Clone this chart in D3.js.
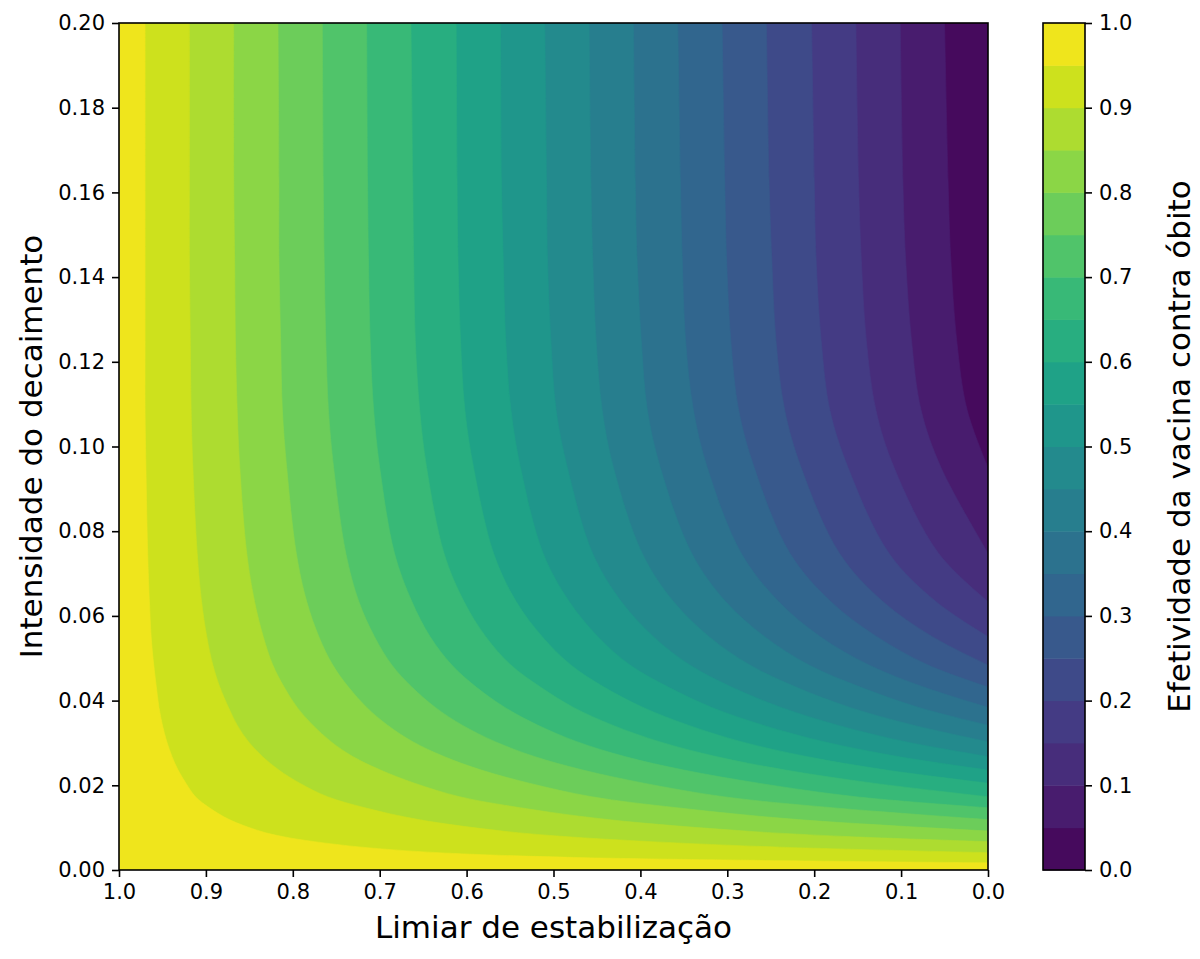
<!DOCTYPE html>
<html>
<head>
<meta charset="utf-8">
<script src="https://cdn.jsdelivr.net/npm/d3@7/dist/d3.min.js"></script>
<style>
  body { margin: 0; background: #fff; }
  text { font-family: "DejaVu Sans", sans-serif; fill: #000; }
</style>
</head>
<body>
<svg id="chart" width="1200" height="959"></svg>
<script>
// contour levels (colour bands of 0.05)
const levels = [0, 0.05, 0.1, 0.15, 0.2, 0.25, 0.3, 0.35, 0.4, 0.45, 0.5,
  0.55, 0.6, 0.65, 0.7, 0.75, 0.8, 0.85, 0.9, 0.95, 1.0];

const xTicks = [1.0, 0.9, 0.8, 0.7, 0.6, 0.5, 0.4, 0.3, 0.2, 0.1, 0.0];
const yTicks = [0, 0.02, 0.04, 0.06, 0.08, 0.1, 0.12, 0.14, 0.16, 0.18, 0.2];
const cbarTicks = [0, 0.1, 0.2, 0.3, 0.4, 0.5, 0.6, 0.7, 0.8, 0.9, 1.0];

// decay values (y) at which the boundaries were read, top to bottom
const decayRows = [0.2, 0.1629, 0.145, 0.125, 0.1086, 0.095, 0.0748, 0.0634,
  0.0551, 0.0484, 0.0432, 0.0384, 0.0342, 0.0303, 0.0268, 0.0236, 0.0205,
  0.0173, 0.0147, 0.0119, 0.0092, 0.0079, 0.0067, 0.0054, 0.0041, 0.0029, 0.0017];

// threshold (x) where each boundary crosses those rows; last value is the x = 0 edge
// one list per level 0.05 ... 0.95
const boundaryX = [
  [0.050, 0.046, 0.043, 0.036, 0.024, 0],
  [0.101, 0.098, 0.095, 0.088, 0.077, 0.054, 0],
  [0.152, 0.149, 0.146, 0.140, 0.129, 0.108, 0.057, 0],
  [0.203, 0.200, 0.198, 0.192, 0.182, 0.161, 0.114, 0.060, 0],
  [0.255, 0.252, 0.249, 0.244, 0.234, 0.215, 0.171, 0.121, 0.064, 0],
  [0.306, 0.303, 0.301, 0.296, 0.287, 0.269, 0.228, 0.181, 0.128, 0.069, 0],
  [0.357, 0.354, 0.352, 0.348, 0.339, 0.323, 0.284, 0.241, 0.193, 0.137, 0.074, 0],
  [0.408, 0.406, 0.404, 0.399, 0.392, 0.377, 0.341, 0.302, 0.257, 0.206, 0.147, 0.080, 0],
  [0.459, 0.457, 0.455, 0.451, 0.444, 0.431, 0.398, 0.362, 0.321, 0.274, 0.221, 0.159, 0.086, 0],
  [0.510, 0.508, 0.507, 0.503, 0.497, 0.484, 0.455, 0.422, 0.385, 0.343, 0.295, 0.238, 0.173, 0.095, 0],
  [0.561, 0.560, 0.558, 0.555, 0.549, 0.538, 0.512, 0.482, 0.449, 0.412, 0.368, 0.318, 0.259, 0.189, 0.104, 0],
  [0.612, 0.611, 0.610, 0.607, 0.602, 0.592, 0.569, 0.543, 0.513, 0.480, 0.442, 0.397, 0.345, 0.284, 0.209, 0.117, 0],
  [0.664, 0.662, 0.661, 0.659, 0.654, 0.646, 0.626, 0.603, 0.578, 0.549, 0.515, 0.477, 0.432, 0.378, 0.313, 0.233, 0.132, 0],
  [0.715, 0.714, 0.713, 0.711, 0.707, 0.700, 0.683, 0.663, 0.642, 0.617, 0.589, 0.556, 0.518, 0.473, 0.418, 0.350, 0.264, 0.152, 0],
  [0.766, 0.765, 0.764, 0.762, 0.759, 0.753, 0.739, 0.724, 0.706, 0.686, 0.663, 0.636, 0.605, 0.567, 0.522, 0.466, 0.396, 0.304, 0.179, 0],
  [0.817, 0.816, 0.816, 0.814, 0.812, 0.807, 0.796, 0.784, 0.770, 0.754, 0.736, 0.715, 0.691, 0.662, 0.626, 0.583, 0.528, 0.456, 0.358, 0.218, 0],
  [0.868, 0.868, 0.867, 0.866, 0.864, 0.861, 0.853, 0.844, 0.834, 0.823, 0.810, 0.795, 0.777, 0.756, 0.731, 0.699, 0.660, 0.608, 0.538, 0.437, 0.279, 0.162, 0],
  [0.919, 0.919, 0.919, 0.918, 0.917, 0.915, 0.910, 0.905, 0.899, 0.892, 0.884, 0.874, 0.864, 0.851, 0.835, 0.816, 0.792, 0.760, 0.717, 0.655, 0.559, 0.487, 0.388, 0.240, 0],
  [0.970, 0.970, 0.970, 0.970, 0.970, 0.969, 0.967, 0.965, 0.963, 0.960, 0.957, 0.954, 0.950, 0.945, 0.939, 0.932, 0.923, 0.912, 0.896, 0.873, 0.838, 0.812, 0.775, 0.721, 0.633, 0.463, 0]
];

const margin = { left: 119, right: 988, top: 23, bottom: 870 };
const svg = d3.select('#chart');

const x = d3.scaleLinear().domain([1, 0]).range([margin.left, margin.right]);
const y = d3.scaleLinear().domain([0, 0.2]).range([margin.bottom, margin.top]);

// band colour: viridis at the middle of each band
const bandColor = i => d3.interpolateViridis((levels[i] + levels[i + 1]) / 2);

svg.append('clipPath').attr('id', 'plot-clip')
  .append('rect')
  .attr('x', margin.left).attr('y', margin.top)
  .attr('width', margin.right - margin.left)
  .attr('height', margin.bottom - margin.top);

const plot = svg.append('g').attr('clip-path', 'url(#plot-clip)');

// lowest band fills the whole area
plot.append('rect')
  .attr('x', margin.left).attr('y', margin.top)
  .attr('width', margin.right - margin.left)
  .attr('height', margin.bottom - margin.top)
  .attr('fill', bandColor(0));

const line = d3.line()
  .x(d => x(d[0]))
  .y(d => y(d[1]))
  .curve(d3.curveCatmullRom.alpha(0.5));

// each boundary: region left/below it has value >= level
boundaryX.forEach((xs, i) => {
  const pts = xs.map((v, k) => [v, decayRows[k]]);
  const path = line(pts) +
    'L' + x(0) + ',' + y(0) +
    'L' + x(1) + ',' + y(0) +
    'L' + x(1) + ',' + y(0.2) + 'Z';
  plot.append('path')
    .attr('d', path)
    .attr('fill', bandColor(i + 1))
    .attr('stroke', bandColor(i + 1))
    .attr('stroke-width', 0.6);
});

// frame
svg.append('rect')
  .attr('x', margin.left).attr('y', margin.top)
  .attr('width', margin.right - margin.left)
  .attr('height', margin.bottom - margin.top)
  .attr('fill', 'none')
  .attr('stroke', '#000')
  .attr('stroke-width', 1.6);

// axes
const xAxis = svg.append('g')
  .attr('transform', `translate(0,${margin.bottom})`)
  .call(d3.axisBottom(x).tickValues(xTicks).tickFormat(d3.format('.1f'))
    .tickSize(7).tickPadding(7));

const yAxis = svg.append('g')
  .attr('transform', `translate(${margin.left},0)`)
  .call(d3.axisLeft(y).tickValues(yTicks).tickFormat(d3.format('.2f'))
    .tickSize(7).tickPadding(7));

[xAxis, yAxis].forEach(g => {
  g.select('.domain').remove();
  g.selectAll('.tick line').attr('stroke', '#000').attr('stroke-width', 1.6);
  g.selectAll('.tick text').attr('font-size', 21).attr('fill', '#000')
    .style('font-family', '"DejaVu Sans", sans-serif');
});

svg.append('text')
  .attr('x', (margin.left + margin.right) / 2)
  .attr('y', 938)
  .attr('text-anchor', 'middle')
  .attr('font-size', 31)
  .text('Limiar de estabilização');

svg.append('text')
  .attr('transform', `translate(42,${(margin.top + margin.bottom) / 2}) rotate(-90)`)
  .attr('text-anchor', 'middle')
  .attr('font-size', 31)
  .text('Intensidade do decaimento');

// colorbar
const cbar = { left: 1043, right: 1085 };
const cy = d3.scaleLinear().domain([0, 1]).range([margin.bottom, margin.top]);

svg.append('g').selectAll('rect')
  .data(d3.pairs(levels))
  .enter().append('rect')
  .attr('x', cbar.left)
  .attr('width', cbar.right - cbar.left)
  .attr('y', d => cy(d[1]))
  .attr('height', d => cy(d[0]) - cy(d[1]) + 0.5)
  .attr('fill', (d, i) => bandColor(i));

svg.append('rect')
  .attr('x', cbar.left).attr('y', margin.top)
  .attr('width', cbar.right - cbar.left)
  .attr('height', margin.bottom - margin.top)
  .attr('fill', 'none')
  .attr('stroke', '#000')
  .attr('stroke-width', 1.6);

const cAxis = svg.append('g')
  .attr('transform', `translate(${cbar.right},0)`)
  .call(d3.axisRight(cy).tickValues(cbarTicks).tickFormat(d3.format('.1f'))
    .tickSize(7).tickPadding(7));
cAxis.select('.domain').remove();
cAxis.selectAll('.tick line').attr('stroke', '#000').attr('stroke-width', 1.6);
cAxis.selectAll('.tick text').attr('font-size', 21).attr('fill', '#000')
  .style('font-family', '"DejaVu Sans", sans-serif');

svg.append('text')
  .attr('transform', `translate(1190,${(margin.top + margin.bottom) / 2}) rotate(-90)`)
  .attr('text-anchor', 'middle')
  .attr('font-size', 31)
  .text('Efetividade da vacina contra óbito');
</script>
</body>
</html>
